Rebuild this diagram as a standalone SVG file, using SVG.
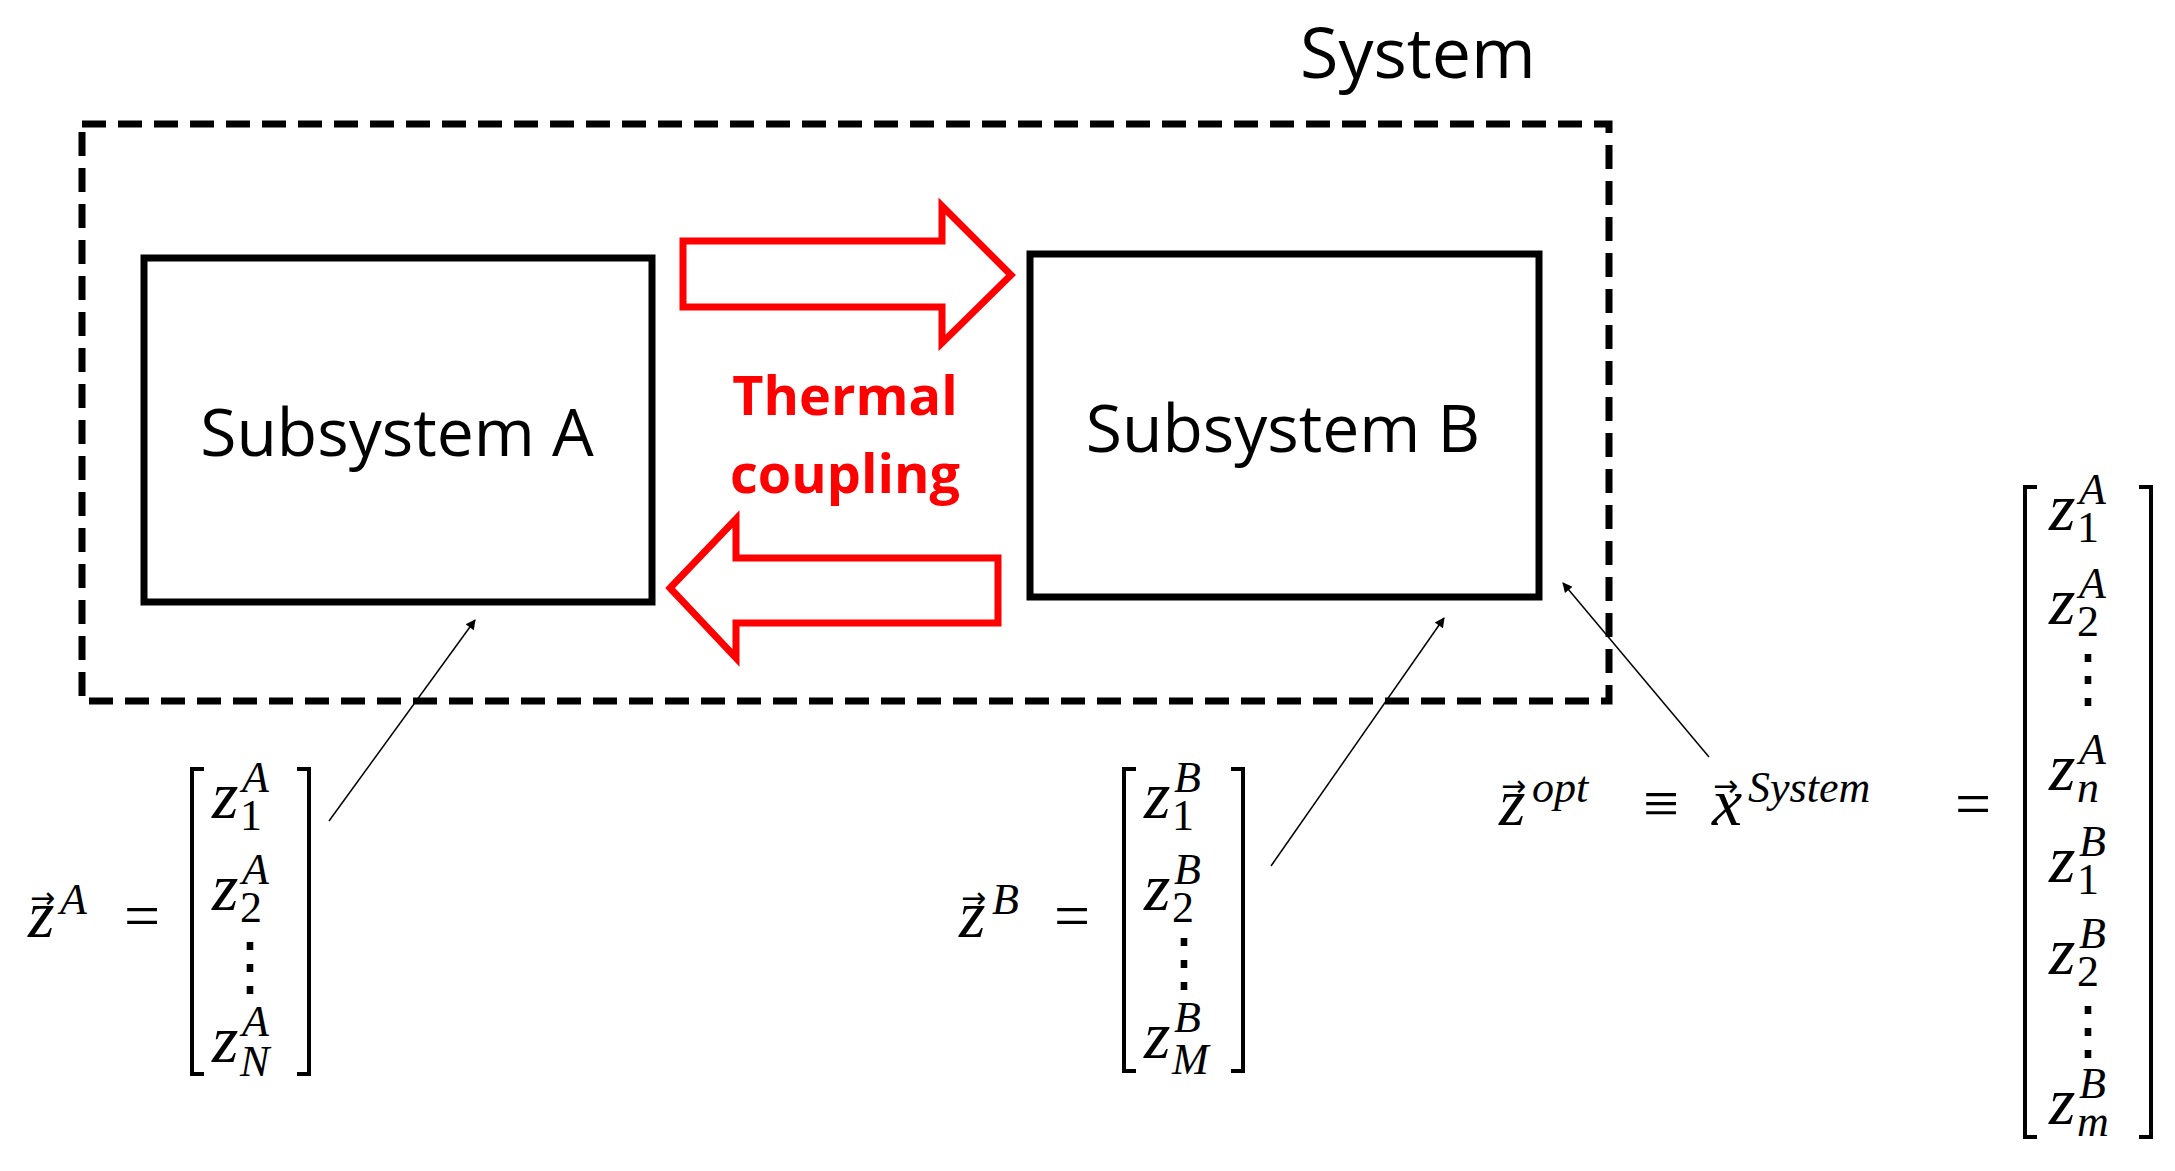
<svg xmlns="http://www.w3.org/2000/svg" width="2175" height="1171" viewBox="0 0 2175 1171">
<style>
.box{fill:#fff;stroke:#000;stroke-width:7}
.lbl{font-family:"Open Sans","Liberation Sans",sans-serif;font-size:66px;fill:#000}
.red{font-family:"Open Sans","Liberation Sans",sans-serif;font-size:54px;font-weight:bold;fill:#f00}
.arr{fill:#fff;stroke:#f00;stroke-width:7}
.thin{stroke:#000;stroke-width:1.5;fill:none}
.z{font-family:"Liberation Serif",serif;font-style:italic;font-size:68px}
.s{font-family:"Liberation Serif",serif;font-style:italic;font-size:44px}
.n{font-family:"Liberation Serif",serif;font-size:44px}
.op{font-family:"Liberation Serif",serif;font-size:64px}
.vec{font-family:"DejaVu Sans",sans-serif;font-size:30px}
.br{fill:none;stroke:#000;stroke-width:4}
</style>
<defs>
<marker id="ah" viewBox="0 0 10 10" refX="9" refY="5" markerWidth="14" markerHeight="10" markerUnits="userSpaceOnUse" orient="auto"><path d="M0,0 L10,5 L0,10 z" fill="#000"/></marker>
</defs>
<g id="system">
<rect x="82" y="124" width="1527" height="577" fill="none" stroke="#000" stroke-width="7" stroke-dasharray="24,12"/>
<text x="1300" y="78" font-family="Open Sans,Liberation Sans,sans-serif" font-size="70">System</text>
</g>
<g id="subA"><rect class="box" x="144" y="258" width="508" height="344"/><text class="lbl" x="397" y="456" text-anchor="middle">Subsystem A</text></g>
<g id="subB"><rect class="box" x="1030" y="254" width="509" height="343"/><text class="lbl" x="1283" y="452" text-anchor="middle">Subsystem B</text></g>
<g id="coupling">
<path class="arr" d="M683,241 H942 V206 L1011,275 L942,343 V307 H683 Z"/>
<path class="arr" d="M998,558 H736 V519 L670,588 L736,658 V623 H998 Z"/>
<text class="red" x="845" y="415" text-anchor="middle">Thermal</text>
<text class="red" x="845" y="493" text-anchor="middle">coupling</text>
</g>
<g id="connectors">
<line class="thin" x1="329" y1="821" x2="475" y2="620" marker-end="url(#ah)"/>
<line class="thin" x1="1271" y1="866" x2="1444" y2="618" marker-end="url(#ah)"/>
<line class="thin" x1="1709" y1="757" x2="1563" y2="583" marker-end="url(#ah)"/>
</g>
<g id="vecA">
<text class="vec" x="30" y="908">→</text><text class="z" x="28" y="937">z</text><text class="s" x="60" y="914">A</text>
<text class="op" x="124" y="937">=</text>
<path class="br" d="M204,769 H192 V1074 H204 M297,769 H309 V1074 H297"/>
<text class="z" x="212" y="818">z</text><text class="n" x="240" y="830">1</text><text class="s" x="242" y="792">A</text>
<text class="z" x="212" y="910">z</text><text class="n" x="240" y="922">2</text><text class="s" x="242" y="884">A</text>
<text class="op" x="250" y="988" text-anchor="middle">⋮</text>
<text class="z" x="212" y="1062">z</text><text class="s" x="240" y="1076">N</text><text class="s" x="242" y="1036">A</text>
</g>
<g id="vecB">
<text class="vec" x="961" y="908">→</text><text class="z" x="959" y="937">z</text><text class="s" x="992" y="914">B</text>
<text class="op" x="1054" y="937">=</text>
<path class="br" d="M1136,769 H1124 V1071 H1136 M1231,769 H1243 V1071 H1231"/>
<text class="z" x="1144" y="818">z</text><text class="n" x="1172" y="830">1</text><text class="s" x="1174" y="792">B</text>
<text class="z" x="1144" y="910">z</text><text class="n" x="1172" y="922">2</text><text class="s" x="1174" y="884">B</text>
<text class="op" x="1184" y="984" text-anchor="middle">⋮</text>
<text class="z" x="1144" y="1058">z</text><text class="s" x="1172" y="1074">M</text><text class="s" x="1174" y="1032">B</text>
</g>
<g id="vecSys">
<text class="vec" x="1501" y="796">→</text><text class="z" x="1499" y="825">z</text><text class="s" x="1532" y="802">opt</text>
<text class="op" x="1643" y="825">≡</text>
<text class="vec" x="1713" y="796">→</text><text class="z" x="1712" y="825">x</text><text class="s" x="1748" y="802">System</text>
<text class="op" x="1955" y="825">=</text>
<path class="br" d="M2037,487 H2025 V1137 H2037 M2139,487 H2151 V1137 H2139"/>
<text class="z" x="2049" y="530">z</text><text class="n" x="2077" y="542">1</text><text class="s" x="2079" y="504">A</text>
<text class="z" x="2049" y="624">z</text><text class="n" x="2077" y="636">2</text><text class="s" x="2079" y="598">A</text>
<text class="op" x="2088" y="700" text-anchor="middle">⋮</text>
<text class="z" x="2049" y="790">z</text><text class="s" x="2077" y="802">n</text><text class="s" x="2079" y="764">A</text>
<text class="z" x="2049" y="882">z</text><text class="n" x="2077" y="894">1</text><text class="s" x="2079" y="856">B</text>
<text class="z" x="2049" y="974">z</text><text class="n" x="2077" y="986">2</text><text class="s" x="2079" y="948">B</text>
<text class="op" x="2088" y="1052" text-anchor="middle">⋮</text>
<text class="z" x="2049" y="1124">z</text><text class="s" x="2077" y="1136">m</text><text class="s" x="2079" y="1098">B</text>
</g>
</svg>
